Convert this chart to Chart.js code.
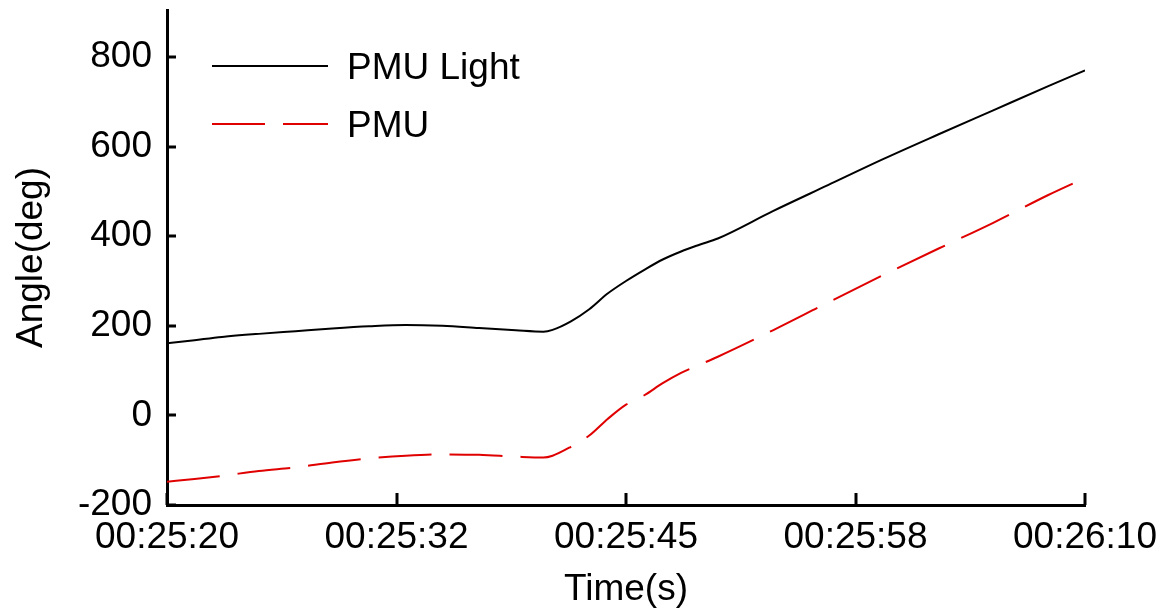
<!DOCTYPE html>
<html>
<head>
<meta charset="utf-8">
<title>PMU angle</title>
<script src="https://cdn.jsdelivr.net/npm/chart.js@4.4.1/dist/chart.umd.min.js"></script>
<style>
  html, body { margin: 0; padding: 0; background: #fff; }
  #wrap { width: 1163px; height: 610px; }
</style>
</head>
<body>
<div id="wrap"><canvas id="angleChart"></canvas></div>
<script>
// seconds after 00:25:20
const times = [0, 1.5, 3, 5, 7, 9, 11, 13, 15, 17, 19, 20.5, 21, 22, 23, 24, 25, 26, 27, 28, 29, 30, 33, 36, 39, 42, 45, 48, 50];
const pmuLight = [161, 168, 175, 182, 188, 194, 199, 202, 200, 195, 190, 187, 191, 210, 237, 272, 300, 325, 348, 366, 381, 395, 456, 514, 572, 627, 681, 735, 770];
const pmu = [-148, -142, -135, -124, -116, -105, -96, -90, -87, -88, -92, -94, -90, -70, -45, -8, 24, 45, 72, 95, 113, 131, 190, 252, 313, 372, 430, 492, 530];

const xTickValues = [0, 12.5, 25, 37.5, 50];
const xTickLabels = ['00:25:20', '00:25:32', '00:25:45', '00:25:58', '00:26:10'];
const yTickValues = [-200, 0, 200, 400, 600, 800];
const seriesNames = ['PMU Light', 'PMU'];

const FONT = "'Liberation Sans', Arial, sans-serif";
const RED = '#e00000';

const toPoints = (ys) => ys.map((y, i) => ({ x: times[i], y: y }));

// short tick marks pointing into the plot
const innerTicks = {
  id: 'innerTicks',
  afterDraw(chart) {
    const { ctx, chartArea, scales } = chart;
    ctx.save();
    ctx.strokeStyle = '#000';
    ctx.lineWidth = 3;
    ctx.beginPath();
    yTickValues.forEach(v => {
      const y = Math.round(scales.y.getPixelForValue(v));
      ctx.moveTo(chartArea.left, y);
      ctx.lineTo(chartArea.left + 9, y);
    });
    xTickValues.forEach(v => {
      const x = Math.round(scales.x.getPixelForValue(v));
      ctx.moveTo(x, chartArea.bottom);
      ctx.lineTo(x, chartArea.bottom - 12);
    });
    ctx.stroke();
    ctx.restore();
  }
};

// legend sits inside the plot, top left
const insideLegend = {
  id: 'insideLegend',
  afterDraw(chart) {
    const { ctx, chartArea } = chart;
    const x0 = chartArea.left + 45;
    const rows = [chartArea.top + 56, chartArea.top + 114];
    ctx.save();
    chart.data.datasets.forEach((ds, i) => {
      const y = rows[i];
      ctx.strokeStyle = ds.borderColor;
      ctx.lineWidth = ds.borderWidth;
      ctx.setLineDash(ds.borderDash || []);
      ctx.beginPath();
      ctx.moveTo(x0, y);
      ctx.lineTo(x0 + 116, y);
      ctx.stroke();
      ctx.setLineDash([]);
      ctx.fillStyle = '#000';
      ctx.font = '37px ' + FONT;
      ctx.textBaseline = 'middle';
      ctx.fillText(ds.label, x0 + 135, y + 3);
    });
    ctx.restore();
  }
};

new Chart(document.getElementById('angleChart'), {
  type: 'line',
  data: {
    datasets: [{
      label: seriesNames[0],
      data: toPoints(pmuLight),
      borderColor: '#000',
      borderWidth: 2,
      pointRadius: 0,
      cubicInterpolationMode: 'monotone'
    }, {
      label: seriesNames[1],
      data: toPoints(pmu),
      borderColor: RED,
      borderWidth: 2,
      borderDash: [53, 18],
      pointRadius: 0,
      cubicInterpolationMode: 'monotone'
    }]
  },
  options: {
    responsive: true,
    maintainAspectRatio: false,
    animation: false,
    layout: { padding: { top: 10, right: 78, left: 0, bottom: 0 } },
    plugins: { legend: { display: false }, tooltip: { enabled: false } },
    scales: {
      x: {
        type: 'linear',
        min: 0,
        max: 50,
        afterBuildTicks: (scale) => { scale.ticks = xTickValues.map(v => ({ value: v })); },
        afterFit: (scale) => {
          scale.height = 105;
          scale.paddingLeft = 0;
          scale.paddingRight = 0;
        },
        grid: { drawOnChartArea: false, drawTicks: false },
        border: { color: '#000', width: 3 },
        ticks: {
          autoSkip: false,
          maxRotation: 0,
          padding: 11,
          color: '#000',
          font: { family: FONT, size: 37 },
          callback: (value) => xTickLabels[xTickValues.indexOf(value)]
        },
        title: {
          display: true,
          text: 'Time(s)',
          color: '#000',
          font: { family: FONT, size: 37, lineHeight: 1 },
          padding: { top: 0, bottom: 2 }
        }
      },
      y: {
        min: -200,
        max: 905,
        afterBuildTicks: (scale) => { scale.ticks = yTickValues.map(v => ({ value: v })); },
        afterFit: (scale) => {
          scale.width = 167;
          scale.paddingTop = 0;
          scale.paddingBottom = 0;
        },
        grid: { drawOnChartArea: false, drawTicks: false },
        border: { color: '#000', width: 3 },
        ticks: {
          padding: 15,
          color: '#000',
          font: { family: FONT, size: 37 }
        },
        title: {
          display: true,
          text: 'Angle(deg)',
          color: '#000',
          font: { family: FONT, size: 37, lineHeight: 1 },
          padding: { top: 13, bottom: 0 }
        }
      }
    }
  },
  plugins: [innerTicks, insideLegend]
});
</script>
</body>
</html>
